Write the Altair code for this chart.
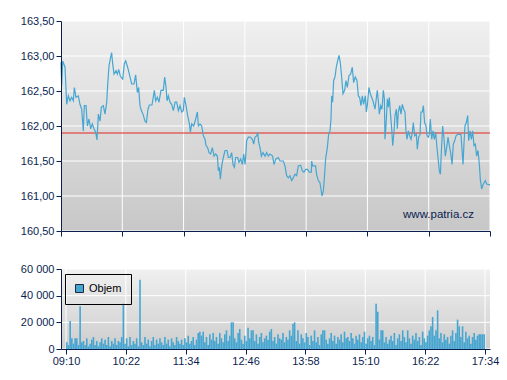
import json
import altair as alt
import pandas as pd

# ---------------- data ----------------
TICK_MINUTES = [0, 72, 144, 216, 288, 360, 432, 504]          # minutes after 09:10
TICK_LABELS = ["09:10", "10:22", "11:34", "12:46", "13:58", "15:10", "16:22", "17:34"]
PRICE_TICKS = [160.5, 161.0, 161.5, 162.0, 162.5, 163.0, 163.5]
VOLUME_TICKS = [0, 20000, 40000, 60000]
REF_PRICE = 161.9
WATERMARK = "www.patria.cz"
LEGEND_LABEL = "Objem"

PRICE_MINUTES = [
    0, 0.8, 2, 4.7, 6.7, 8.6, 10.6, 12.5, 14.5, 15.7, 17.6, 20.4, 22.3, 24.3, 26.2, 27.4, 29.4, 31, 32.9, 34.9,
    36.8, 38.8, 40.7, 42.3, 43.9, 45.8, 47.4, 49.7, 51.7, 53.7, 54.8, 56.4, 58.3, 59.5, 60.7, 62.3, 64.6, 66.2,
    67.8, 69.7, 72.5, 74.4, 76, 78.3, 80.3, 83, 85.8, 87.7, 89.7, 91.2, 92.8, 94.4, 96.3, 98.7, 100.3, 102.2,
    103.8, 106.9, 109.7, 111.2, 113.2, 115.1, 117.5, 120.2, 121.8,
    123.4, 124.6, 126.1, 128.1, 130, 132, 134, 135.9, 137.9, 139.8, 141.8, 143.7, 144.9, 146.9, 148.8, 150.8,
    152, 153.5, 155.9, 158.2, 160.2, 161.4, 163.3, 165.3, 167.2, 169.2, 170.4, 172.3, 173.9, 175.8, 177.8,
    179.8, 181.7, 183.7, 184.9, 186, 187.2, 188.8, 190.7, 192.7, 195, 196.6, 198.6, 200.5, 202.1, 203.7, 205.2,
    207.6, 209.1, 211.1, 213.1, 214.6, 216.2, 217, 218.1, 220.1, 222.4, 224.8, 226.4, 227.9, 229.9, 231.1,
    232.2, 233.8, 235.4, 237.3, 239.7, 241.6, 243.6,
    245.5, 248.6, 250.2, 252.5, 255.3, 257.3, 261.2, 263.1, 265.1, 267, 269, 271, 272.9, 274.9, 276.8, 278.8,
    281.5, 283.5, 285.4, 287.4, 289.8, 291.7, 294.1, 294.5, 295.6, 297.2, 299.1, 300.3, 302.3, 304.2, 305.4,
    306.6, 308.2, 309.3, 310.9, 312.9, 314.4, 316, 317.2, 318, 319.1, 320.3, 321.9, 323.4, 325, 326.6, 328.1,
    329.7, 331.3, 333.2, 334.8, 336.4, 338.3, 340.3, 342.2, 343.8, 345.7, 347.7, 349.3, 350.8, 352.4, 354,
    355.5, 357.5, 358.7, 359.8, 361.8, 363.4, 364.9, 366.5,
    368.9, 370.1, 371.6, 372.8, 374, 375.6, 377.1, 378.7, 379.9, 380.6, 381.8, 383.4, 384.6, 385.7, 386.9,
    388.5, 389.7, 391.2, 392.4, 394, 395.1, 396.3, 397.9, 399.4, 401, 402.6, 404.1, 405.3, 406.5, 408.1,
    409.6, 411.2, 412.8, 413.9, 415.5, 417.5, 418.6, 420.2, 421.8, 422.9, 424.5, 425.7, 427.2, 428.8, 430,
    431.6, 432.7, 433.9, 435.5, 437, 438.6, 440.2, 441.7, 443.3, 444.5, 445.7, 446.8, 448.4, 450, 451.5,
    453.1, 454.7, 456.2, 457.8, 459.4, 460.9, 462.5, 464.1, 466, 468, 469.9, 471.1, 472.3, 473.4, 474.6,
    476.2, 477.8, 478.9, 480.5, 482.1, 483.6, 485.2, 486.8, 488.3, 489.9, 491.5, 492.6, 494.2, 495.4, 497,
    498.5, 500.1, 504,
]
PRICE_VALUES = [
    162.91, 162.58, 162.93, 162.84, 162.31, 162.43, 162.36, 162.41, 162.36, 162.55, 162.41, 162.43, 162.31,
    162.24, 161.93, 162.29, 162.29, 162.00, 162.10, 161.96, 162.03, 161.96, 161.91, 161.80, 162.17, 162.07,
    162.27, 162.29, 162.17, 162.34, 162.58, 162.86, 162.98, 163.05, 162.89, 162.74, 162.79, 162.74, 162.81,
    162.71, 162.67, 162.89, 162.93, 162.84, 162.74, 162.60, 162.60, 162.73, 162.48, 162.55, 162.29, 162.22,
    162.17, 162.07, 162.05, 162.24, 162.30, 162.30, 162.51, 162.36, 162.41, 162.34, 162.51, 162.51, 162.70,
    162.55, 162.36, 162.43, 162.34, 162.31, 162.22, 162.34, 162.34, 162.22, 162.29, 162.20, 162.22, 162.41,
    162.29, 162.15, 162.03, 161.91, 162.03, 162.00, 162.10, 162.20, 162.00, 162.03, 162.00, 161.86, 161.81,
    161.72, 161.69, 161.62, 161.60, 161.69, 161.57, 161.60, 161.57, 161.36, 161.41, 161.24, 161.43, 161.55,
    161.65, 161.65, 161.55, 161.55, 161.62, 161.45, 161.41, 161.55, 161.55, 161.48, 161.53, 161.45, 161.60,
    161.45, 161.57, 161.79, 161.84, 161.84, 161.81, 161.74, 161.84, 161.86, 161.91, 161.77, 161.69, 161.57,
    161.62, 161.57, 161.62, 161.57,
    161.60, 161.57, 161.45, 161.53, 161.55, 161.50, 161.50, 161.43, 161.29, 161.26, 161.29, 161.22, 161.26,
    161.31, 161.29, 161.43, 161.44, 161.36, 161.34, 161.38, 161.38, 161.34, 161.34, 161.50, 161.43, 161.43,
    161.43, 161.31, 161.22, 161.19, 161.10, 161.00, 161.07, 161.24, 161.53, 161.69, 161.88, 161.93, 162.10,
    162.43, 162.34, 162.65, 162.70, 162.84, 162.93, 163.01, 162.91, 162.70, 162.46, 162.51, 162.65, 162.55,
    162.72, 162.74, 162.84, 162.62, 162.70, 162.65, 162.43, 162.41, 162.29, 162.43, 162.31, 162.43, 162.20,
    162.29, 162.55, 162.46, 162.41, 162.36,
    162.24, 162.36, 162.51, 162.36, 162.17, 162.29, 162.24, 162.51, 162.39, 161.81, 162.00, 162.39, 162.27,
    162.41, 162.20, 161.96, 161.72, 161.91, 162.15, 162.24, 161.96, 162.20, 162.29, 162.17, 162.31, 162.24,
    162.20, 161.93, 161.81, 161.93, 161.86, 161.81, 161.91, 162.05, 161.86, 161.88, 161.67, 161.84, 161.88,
    162.20, 162.20, 162.29, 162.05, 162.00, 161.86, 161.84, 161.88, 162.10, 161.81, 161.93, 161.81, 161.91,
    161.69, 161.50, 161.36, 161.31, 161.62, 162.00, 161.81, 161.57, 161.69, 161.84, 161.72, 161.62, 161.45,
    161.74, 161.79, 161.86, 161.88, 161.88, 161.88, 161.67, 161.45, 161.74, 162.00, 162.05, 162.15, 161.79,
    161.93, 161.81, 161.93, 161.72, 161.74, 161.57, 161.65, 161.45, 161.24, 161.10, 161.15, 161.19, 161.22,
    161.17, 161.16,
]

VOLUME_BIN = 2  # minutes per volume bar
VOLUME_THOUSANDS = [
    5, 3, 21, 8, 4, 8, 8, 3, 32, 5,
    6, 3, 8, 2, 4, 7, 9, 3, 6, 2,
    5, 8, 4, 7, 3, 9, 2, 6, 4, 8,
    3, 6, 5, 9, 34, 4, 8, 2, 9, 3,
    6, 4, 8, 2, 52, 5, 3, 9, 4, 7,
    2, 6, 9, 3, 7, 4, 8, 5, 3, 9,
    4, 7, 2, 8, 5, 3, 9, 6, 4, 7,
    3, 8, 5, 10, 4, 6, 9, 3, 7, 12,
    13, 10, 13, 5, 9, 3, 11, 7, 12, 6,
    9, 4, 12, 8, 5, 11, 14, 6, 10, 20,
    20, 8, 5, 12, 15, 7, 4, 10, 6, 16,
    8, 14, 14, 6, 11, 4, 9, 12, 5, 8,
    10, 7, 13, 15, 6, 9, 4, 11, 8, 7,
    12, 5, 9, 7, 14, 10, 19, 20, 6, 14,
    4, 11, 8, 5, 12, 9, 3, 10, 6, 14,
    5, 9, 3, 11, 14, 14, 7, 4, 8, 12,
    6, 10, 4, 9, 7, 11, 5, 13, 8, 9,
    6, 12, 8, 4, 10, 7, 11, 5, 9, 13,
    4, 8, 10, 6, 9, 3, 34, 28, 7, 14,
    14, 5, 9, 4, 7, 10, 6, 12, 3, 8,
    11, 6, 14, 9, 5, 14, 8, 4, 10, 7,
    12, 6, 9, 3, 13, 8, 5, 10, 14, 17,
    24, 10, 14, 29, 8, 12, 5, 11, 7, 9,
    4, 10, 14, 6, 12, 22, 17, 9, 17, 5,
    13, 8, 10, 4, 9, 12, 7, 10, 11, 11,
    11, 11,
]

# ---------------- styling ----------------
W = 429
H_TOP = 210
H_BOT = 80
GAP = 38
LINE_COLOR = "#46a6d2"
AXIS_COLOR = "#0b1e50"
RED = "#e0261e"
FONT = "Liberation Sans"

price_df = pd.DataFrame({"minute": PRICE_MINUTES, "price": PRICE_VALUES})
vol_df = pd.DataFrame({
    "minute": [i * VOLUME_BIN + VOLUME_BIN / 2 for i in range(len(VOLUME_THOUSANDS))],
    "volume": [v * 1000 for v in VOLUME_THOUSANDS],
    "series": [LEGEND_LABEL] * len(VOLUME_THOUSANDS),
})
xgrid_df = pd.DataFrame({"minute": TICK_MINUTES})
pgrid_df = pd.DataFrame({"price": PRICE_TICKS})
vgrid_df = pd.DataFrame({"volume": VOLUME_TICKS})
ref_df = pd.DataFrame({"price": [REF_PRICE]})

x_scale = alt.Scale(domain=[TICK_MINUTES[0], TICK_MINUTES[-1]], nice=False, zero=False)
p_scale = alt.Scale(domain=[PRICE_TICKS[0], PRICE_TICKS[-1]], nice=False, zero=False)
v_scale = alt.Scale(domain=[VOLUME_TICKS[0], VOLUME_TICKS[-1]], nice=False)

label_expr = f"{json.dumps(TICK_LABELS)}[indexof({json.dumps(TICK_MINUTES)}, datum.value)]"

x_axis_top = alt.Axis(values=TICK_MINUTES, labels=False, ticks=True, tickSize=5, grid=False,
                      title=None, zindex=1)
x_axis_bot = alt.Axis(values=TICK_MINUTES, labelExpr=label_expr, tickSize=5, grid=False,
                      title=None, zindex=1, labelPadding=1, labelFlush=False, labelOverlap=False)
p_axis = alt.Axis(values=PRICE_TICKS, labelExpr="replace(format(datum.value, '.2f'), '.', ',')",
                  tickSize=5, labelPadding=2, grid=False, title=None, zindex=1)
v_axis = alt.Axis(values=VOLUME_TICKS, labelExpr="replace(format(datum.value, ','), ',', ' ')",
                  tickSize=5, labelPadding=2, grid=False, title=None, zindex=1)


def background(h, top, bottom):
    return alt.Chart(alt.Data(values=[{}])).mark_rect(
        color=alt.Gradient(
            gradient="linear",
            stops=[alt.GradientStop(color=top, offset=0), alt.GradientStop(color=bottom, offset=1)],
            x1=0, x2=0, y1=0, y2=1,
        )
    ).encode(x=alt.value(0), x2=alt.value(W), y=alt.value(0), y2=alt.value(h))


# ---------------- top: price ----------------
top_bg = background(H_TOP, "#f0f0f0", "#c7c7c7")
top_vgrid = alt.Chart(xgrid_df).mark_rule(color="white", strokeWidth=1).encode(
    x=alt.X("minute:Q", scale=x_scale, axis=x_axis_top))
top_hgrid = alt.Chart(pgrid_df).mark_rule(color="white", strokeWidth=1).encode(
    y=alt.Y("price:Q", scale=p_scale, axis=p_axis))
ref_rule = alt.Chart(ref_df).mark_rule(color=RED, strokeWidth=1).encode(
    y=alt.Y("price:Q", scale=p_scale, axis=p_axis))
price_line = alt.Chart(price_df).mark_line(color=LINE_COLOR, strokeWidth=1.2).encode(
    x=alt.X("minute:Q", scale=x_scale, axis=x_axis_top),
    y=alt.Y("price:Q", scale=p_scale, axis=p_axis),
)
watermark = alt.Chart(alt.Data(values=[{}])).mark_text(
    text=WATERMARK, align="right", baseline="alphabetic", fontSize=11.5, font=FONT, color=AXIS_COLOR
).encode(x=alt.value(W - 16), y=alt.value(H_TOP - 13))

top = alt.layer(top_bg, top_vgrid, top_hgrid, ref_rule, price_line, watermark).properties(
    width=W, height=H_TOP)

# ---------------- bottom: volume ----------------
bot_bg = background(H_BOT, "#f0f0f0", "#cdcdcd")
bot_vgrid = alt.Chart(xgrid_df).mark_rule(color="white", strokeWidth=1).encode(
    x=alt.X("minute:Q", scale=x_scale, axis=x_axis_bot))
bot_hgrid = alt.Chart(vgrid_df).mark_rule(color="white", strokeWidth=1).encode(
    y=alt.Y("volume:Q", scale=v_scale, axis=v_axis))
bars = alt.Chart(vol_df).mark_bar(size=1.6).encode(
    x=alt.X("minute:Q", scale=x_scale, axis=x_axis_bot),
    y=alt.Y("volume:Q", scale=v_scale, axis=v_axis),
    color=alt.Color("series:N", scale=alt.Scale(domain=[LEGEND_LABEL], range=[LINE_COLOR]),
                    legend=alt.Legend(title=None, orient="none", legendX=4,
                                      legendY=H_TOP + GAP + 5,
                                      strokeColor="black", padding=9, symbolType="square",
                                      symbolSize=64, symbolStrokeColor="#1a2a40", symbolStrokeWidth=1,
                                      labelFontSize=11, labelFont=FONT, labelColor="black",
                                      labelOffset=4, cornerRadius=0)),
)
bottom = alt.layer(bot_bg, bot_vgrid, bot_hgrid, bars).properties(width=W, height=H_BOT)

chart = alt.vconcat(top, bottom, spacing=GAP, bounds="flush").properties(
    padding={"left": 20, "top": 15, "right": 5, "bottom": 5},
    background="white",
).configure_view(stroke=None).configure_axis(
    labelFont=FONT, labelFontSize=11, labelColor=AXIS_COLOR, domainColor=AXIS_COLOR,
    tickColor=AXIS_COLOR, domainWidth=1, tickWidth=1,
)

chart.save("out.html", embed_options={"renderer": "svg", "actions": False})
